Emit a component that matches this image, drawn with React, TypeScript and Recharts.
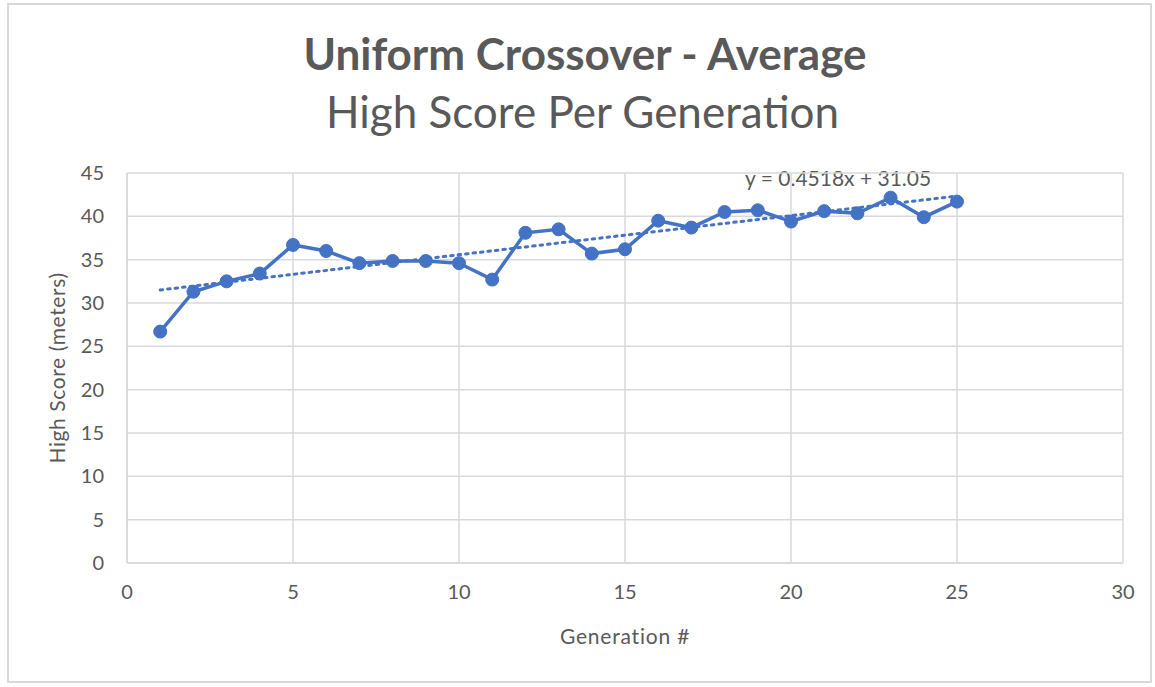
import { CartesianGrid, Label, Line, LineChart, XAxis, YAxis } from 'recharts';

const generations = [
  1, 2, 3, 4, 5, 6, 7, 8, 9, 10, 11, 12, 13, 14, 15, 16, 17, 18, 19, 20, 21, 22, 23, 24, 25
];
const highScores = [
  26.7, 31.3, 32.5, 33.4, 36.7, 36.0, 34.6, 34.85, 34.85, 34.6, 32.7, 38.1, 38.5, 35.7, 36.2,
  39.5, 38.7, 40.5, 40.7, 39.4, 40.6, 40.35, 42.15, 39.9, 41.7
];
const xTicks = [0, 5, 10, 15, 20, 25, 30];
const yTicks = [0, 5, 10, 15, 20, 25, 30, 35, 40, 45];

// linear trendline, as printed on the chart
const trendSlope = 0.4518;
const trendIntercept = 31.05;
const trendRange = [1, 25];

const FONT = 'Lato, "Open Sans", sans-serif';
const TEXT = '#595959';
const GRID = '#d9d9d9';
const BLUE = '#4472C4';

const data = generations.map((gen, i) => ({ gen, score: highScores[i] }));
const trendData = trendRange.map((gen) => ({ gen, trend: trendIntercept + trendSlope * gen }));

export default function App() {
  return (
    <div
      style={{
        position: 'absolute',
        left: 0,
        top: 0,
        width: 1155,
        height: 687,
        background: '#fff',
        fontFamily: FONT
      }}
    >
      <div
        style={{
          position: 'absolute',
          left: 7,
          top: 3,
          width: 1141,
          height: 676,
          border: `2px solid ${GRID}`
        }}
      />
      <div
        style={{
          position: 'absolute',
          left: 0,
          width: 1170,
          top: 27,
          textAlign: 'center',
          color: TEXT,
          fontWeight: 700,
          fontSize: 44,
          lineHeight: 1.2,
          whiteSpace: 'nowrap'
        }}
      >
        Uniform Crossover - Average
      </div>
      <div
        style={{
          position: 'absolute',
          left: 0,
          width: 1165,
          top: 85,
          textAlign: 'center',
          color: TEXT,
          fontSize: 44,
          lineHeight: 1.2,
          whiteSpace: 'nowrap'
        }}
      >
        High Score Per Generation
      </div>
      <div
        style={{
          position: 'absolute',
          left: 745,
          top: 165,
          color: TEXT,
          fontSize: 21,
          lineHeight: 1.2,
          whiteSpace: 'nowrap'
        }}
      >
        y = 0.4518x + 31.05
      </div>
      <LineChart
        width={1155}
        height={687}
        data={data}
        margin={{ top: 173, right: 32, bottom: 94, left: 67 }}
        style={{ position: 'absolute', left: 0, top: 0 }}
      >
        <CartesianGrid stroke={GRID} strokeWidth={1.5} />
        <XAxis
          dataKey="gen"
          type="number"
          domain={[0, 30]}
          ticks={xTicks}
          height={30}
          axisLine={{ stroke: GRID, strokeWidth: 1.5 }}
          tickLine={false}
          tickSize={6}
          tickMargin={16}
          tick={{ fill: TEXT, fontSize: 20, fontFamily: FONT }}
          interval={0}
        >
          <Label
            value="Generation #"
            position="bottom"
            offset={36}
            fill={TEXT}
            fontSize={21}
            fontFamily={FONT}
            style={{ letterSpacing: 0.8 }}
          />
        </XAxis>
        <YAxis
          type="number"
          domain={[0, 45]}
          ticks={yTicks}
          width={60}
          axisLine={{ stroke: GRID, strokeWidth: 1.5 }}
          tickLine={false}
          tickSize={6}
          tickMargin={17}
          tick={{ fill: TEXT, fontSize: 20, fontFamily: FONT }}
          interval={0}
        >
          <Label
            value="High Score (meters)"
            angle={-90}
            position="insideLeft"
            offset={-9}
            style={{ textAnchor: 'middle', letterSpacing: 0.6 }}
            fill={TEXT}
            fontSize={21}
            fontFamily={FONT}
          />
        </YAxis>
        <Line
          dataKey="score"
          stroke={BLUE}
          strokeWidth={3.5}
          dot={{ r: 6.5, fill: BLUE, stroke: BLUE, strokeWidth: 1 }}
          activeDot={false}
          isAnimationActive={false}
        />
        <Line
          data={trendData}
          dataKey="trend"
          stroke={BLUE}
          strokeWidth={3}
          strokeDasharray="2.5 5"
          strokeLinecap="round"
          dot={false}
          activeDot={false}
          isAnimationActive={false}
        />
      </LineChart>
    </div>
  );
}
